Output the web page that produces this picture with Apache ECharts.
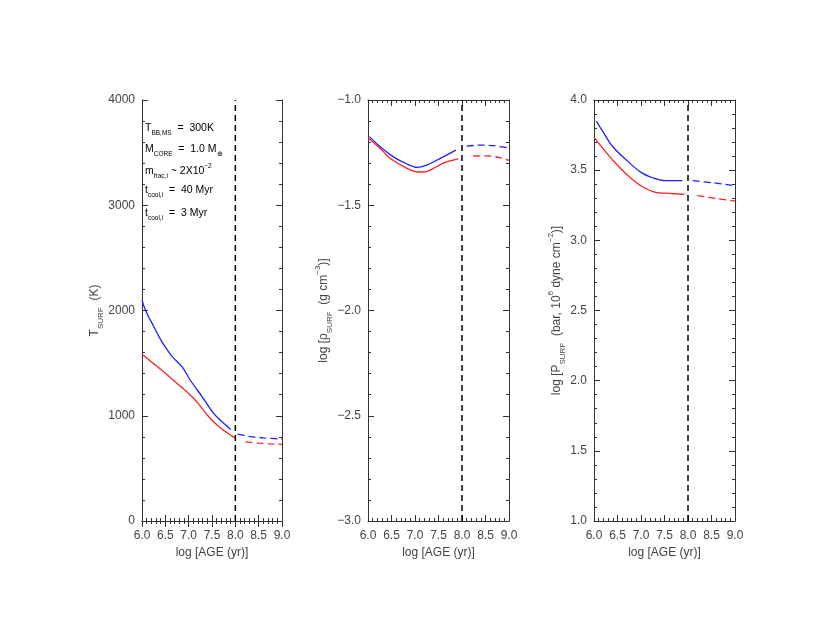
<!DOCTYPE html>
<html>
<head>
<meta charset="utf-8">
<script src="https://cdn.jsdelivr.net/npm/echarts@6/dist/echarts.min.js"></script>
<style>
  html, body { margin: 0; padding: 0; background: #fff; }
  #chart { width: 830px; height: 642px; }
</style>
</head>
<body>
<div id="chart"></div>
<script>
// panel 1: surface temperature (K)
const tAgeBlue = [6.0, 6.05, 6.14, 6.22, 6.39, 6.52, 6.65, 6.86, 7.04, 7.29, 7.54, 7.72, 7.9]
const tBlue = [2100, 2030, 1940, 1875, 1730, 1640, 1560, 1465, 1335, 1180, 1020, 940, 870]
const tAgeRed = [6.0, 6.25, 6.47, 6.68, 6.93, 7.18, 7.43, 7.65, 7.9, 8.0]
const tRed = [1585, 1495, 1415, 1335, 1240, 1130, 990, 895, 815, 790]
const tAgeBlueExt = [8.05, 8.3, 8.6, 9.0]
const tBlueExt = [826, 805, 790, 778]
const tAgeRedExt = [8.22, 8.5, 8.75, 9.0]
const tRedExt = [752, 740, 733, 728]

// panel 2: log surface density
const rAgeBlue = [6.03, 6.26, 6.54, 6.83, 7.04, 7.25, 7.54, 7.87]
const rBlue = [-1.174, -1.222, -1.27, -1.304, -1.32, -1.309, -1.277, -1.238]
const rAgeRed = [6.0, 6.26, 6.47, 6.83, 7.07, 7.25, 7.39, 7.6, 7.92]
const rRed = [-1.179, -1.23, -1.277, -1.325, -1.342, -1.34, -1.325, -1.30, -1.28]
const rAgeBlueExt = [8.1, 8.42, 8.67, 9.0]
const rBlueExt = [-1.219, -1.214, -1.217, -1.228]
const rAgeRedExt = [8.24, 8.52, 8.81, 9.0]
const rRedExt = [-1.266, -1.265, -1.274, -1.287]

// panel 3: log surface pressure
const pAgeBlue = [6.05, 6.19, 6.40, 6.69, 7.0, 7.25, 7.5, 7.88]
const pBlue = [3.85, 3.774, 3.667, 3.572, 3.484, 3.446, 3.425, 3.425]
const pAgeRed = [6.0, 6.22, 6.43, 6.75, 7.03, 7.31, 7.6, 7.92]
const pRed = [3.734, 3.643, 3.56, 3.453, 3.382, 3.342, 3.335, 3.328]
const pAgeBlueExt = [8.1, 8.53, 9.0]
const pBlueExt = [3.425, 3.41, 3.389]
const pAgeRedExt = [8.2, 8.59, 9.0]
const pRedExt = [3.318, 3.299, 3.28]

const cutAge = 8.0
const yRanges = [[0, 4000, 1000], [-3, -1, 0.5], [1, 4, 0.5]]

const BLUE = '#1f1fff'
const RED = '#ff2020'
const AXIS = '#333'
const TXT = '#444'
const FONT = 'Liberation Sans'

const pairs = (xs, ys) => xs.map((x, i) => [x, ys[i]])

const lefts = [142, 368, 594]
const widths = [140, 141, 141]

const richLabel = {
  n: { fontSize: 12, fontFamily: FONT, color: TXT },
  s: { fontSize: 8, fontFamily: FONT, color: TXT, verticalAlign: 'bottom', lineHeight: 20 },
  p: { fontSize: 8, fontFamily: FONT, color: TXT, verticalAlign: 'top', lineHeight: 8 }
}
const yNames = [
  '{n|T}{s|SURF}{n|  (K)}',
  '{n|log [}{n|ρ}{s|SURF}{n|  (g cm}{p|−3}{n|)]}',
  '{n|log [P}{s|SURF}{n|  (bar, 10}{p|6}{n| dyne cm}{p|−2}{n|)]}'
]
const yGaps = [28, 25, 26]

const chart = echarts.init(document.getElementById('chart'))

const grid = lefts.map((l, i) => ({ left: l, top: 100, width: widths[i], height: 421 }))

// negative lengths turn the ticks into the box
const tick = () => ({ show: true, inside: false, length: -6, lineStyle: { color: AXIS } })
const minor = () => ({ show: true, splitNumber: 5, length: -3, lineStyle: { color: AXIS } })

const xAxis = []
const yAxis = []
lefts.forEach((l, i) => {
  const base = () => ({
    gridIndex: i, type: 'value', min: 6, max: 9, interval: 0.5,
    splitLine: { show: false },
    axisLine: { lineStyle: { color: AXIS, width: 1 } },
    axisTick: tick(),
    minorTick: minor()
  })
  xAxis.push(Object.assign(base(), {
    position: 'bottom',
    name: 'log [AGE (yr)]', nameLocation: 'middle', nameGap: 24,
    nameTextStyle: { fontSize: 12, fontFamily: FONT, color: TXT },
    axisLabel: { margin: 9, fontSize: 12, fontFamily: FONT, color: TXT, formatter: v => v.toFixed(1) }
  }))
  xAxis.push(Object.assign(base(), { position: 'top', axisLabel: { show: false } }))

  const [lo, hi, step] = yRanges[i]
  const ybase = () => ({
    gridIndex: i, type: 'value', min: lo, max: hi, interval: step,
    splitLine: { show: false },
    axisLine: { show: true, lineStyle: { color: AXIS, width: 1 } },
    axisTick: tick(),
    minorTick: minor()
  })
  yAxis.push(Object.assign(ybase(), {
    position: 'left',
    name: yNames[i], nameLocation: 'middle', nameGap: yGaps[i],
    nameTextStyle: { rich: richLabel },
    axisLabel: {
      margin: 7, fontSize: 12, fontFamily: FONT, color: TXT,
      formatter: v => i === 0 ? String(v) : v.toFixed(1).replace('-', '−')
    }
  }))
  yAxis.push(Object.assign(ybase(), { position: 'right', axisLabel: { show: false } }))
})

const panels = [
  [tAgeBlue, tBlue, tAgeRed, tRed, tAgeBlueExt, tBlueExt, tAgeRedExt, tRedExt],
  [rAgeBlue, rBlue, rAgeRed, rRed, rAgeBlueExt, rBlueExt, rAgeRedExt, rRedExt],
  [pAgeBlue, pBlue, pAgeRed, pRed, pAgeBlueExt, pBlueExt, pAgeRedExt, pRedExt]
]

const series = []
panels.forEach((p, i) => {
  const ax = { xAxisIndex: i * 2, yAxisIndex: i * 2 }
  const line = (data, color, dashed) => Object.assign({
    type: 'line', data, symbol: 'none', smooth: 0.3, silent: true,
    lineStyle: { color, width: 1.3, type: dashed ? [7, 4] : 'solid' }
  }, ax)
  series.push(line(pairs(p[0], p[1]), BLUE, false))
  series.push(line(pairs(p[2], p[3]), RED, false))
  series.push(line(pairs(p[4], p[5]), BLUE, true))
  series.push(line(pairs(p[6], p[7]), RED, true))
  series.push(Object.assign({
    type: 'line', symbol: 'none', silent: true,
    data: [[cutAge, yRanges[i][0]], [cutAge, yRanges[i][1]]],
    lineStyle: { color: '#000', width: 1.5, type: [6, 4] }
  }, ax))
})

const noteRich = {
  n: { fontSize: 10.5, fontFamily: FONT, color: TXT },
  s: { fontSize: 6.5, fontFamily: FONT, color: TXT, verticalAlign: 'bottom', lineHeight: 17 },
  p: { fontSize: 6.5, fontFamily: FONT, color: TXT, verticalAlign: 'top', lineHeight: 7 },
  bn: { fontSize: 10.5, fontFamily: FONT, color: '#5555ff' },
  bs: { fontSize: 6.5, fontFamily: FONT, color: '#5555ff', verticalAlign: 'bottom', lineHeight: 17 },
  rn: { fontSize: 10.5, fontFamily: FONT, color: '#ff4444' },
  rs: { fontSize: 6.5, fontFamily: FONT, color: '#ff4444', verticalAlign: 'bottom', lineHeight: 17 }
}
const notes = [
  '{n|T}{s|BB,MS}{n|  =  300K}',
  '{n|M}{s|CORE}{n|  =  1.0 M}{s|⊕}',
  '{n|m}{s|frac,i}{n| ~ 2X10}{p|−2}',
  '{bn|t}{bs|cool,i}{bn|  =  40 Myr}',
  '{rn|t}{rs|cool,i}{rn|  =  3 Myr}'
]
const noteY = [123, 144, 163, 185, 208]

const graphic = notes.map((t, k) => ({
  type: 'text', left: 145, top: noteY[k], silent: true,
  style: { text: t, rich: noteRich }
}))

chart.setOption({
  animation: false,
  backgroundColor: '#fff',
  grid, xAxis, yAxis, series, graphic
})
</script>
</body>
</html>
